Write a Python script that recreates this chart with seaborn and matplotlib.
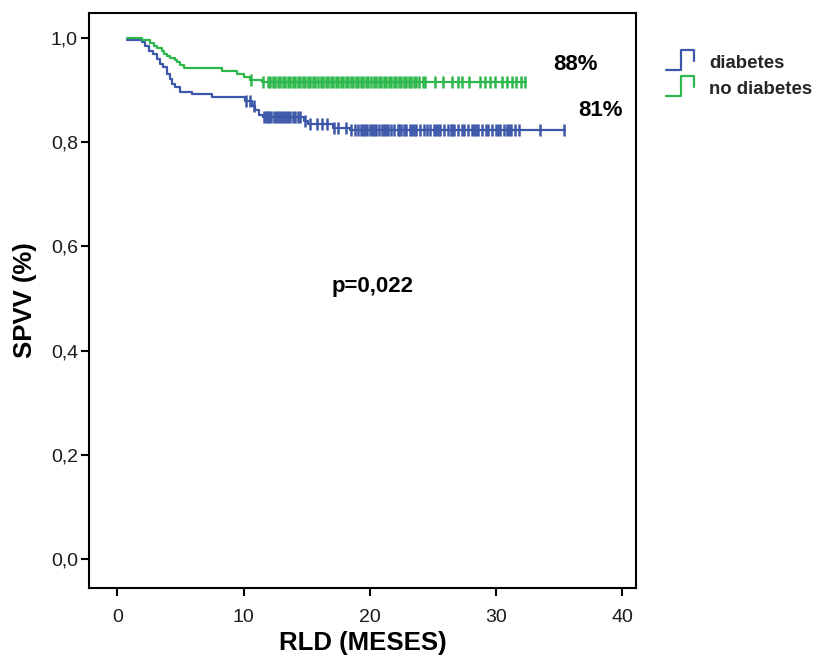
import numpy as np
import pandas as pd
import matplotlib
matplotlib.use("Agg")
import matplotlib.pyplot as plt
from matplotlib.lines import Line2D
from matplotlib.legend_handler import HandlerBase
import seaborn as sns

# ---------------- data ----------------
groups = ["diabetes", "no diabetes"]
colors = {"diabetes": "#3D58A8", "no diabetes": "#2EB84C"}

# Kaplan-Meier step curve: diabetes
diab_time = [0.8, 1.95, 2.2, 2.5, 2.8, 3.1, 3.4, 3.65, 3.9, 4.2, 4.3, 4.6, 5.0, 5.9,
             7.5, 10.1, 10.7, 10.9, 11.2, 11.5, 14.8, 15.1, 17.1, 18.4, 35.5]
diab_surv = [0.997, 0.992, 0.985, 0.976, 0.969, 0.960, 0.950, 0.944, 0.931, 0.921, 0.912,
             0.906, 0.896, 0.892, 0.886, 0.880, 0.870, 0.861, 0.853, 0.848, 0.841, 0.835,
             0.828, 0.823, 0.823]
diab_censor = [10.2, 10.5, 10.8,
               11.6, 11.75, 11.9, 12.05, 12.2, 12.4, 12.55, 12.7, 12.9, 13.05, 13.2,
               13.4, 13.55, 13.7, 13.9, 14.1, 14.3, 14.5,
               14.9, 15.3, 15.8, 16.2, 16.6, 17.2, 17.5, 18.1, 18.5, 18.8,
               19.1, 19.3, 19.45, 19.6, 19.8, 20.0, 20.15, 20.3, 20.5, 20.7, 21.0, 21.15,
               21.3, 21.45, 21.7, 21.9, 22.2, 22.35, 22.5, 22.7, 22.9, 23.2, 23.35, 23.5,
               23.7, 24.0, 24.3, 24.5, 24.8, 25.1, 25.25, 25.4, 25.6, 25.9, 26.2, 26.4,
               26.55, 26.7, 27.0, 27.3, 27.5, 27.8, 28.1, 28.3, 28.45, 28.6, 28.9, 29.2,
               29.4, 29.7, 30.0, 30.15, 30.3, 30.6, 30.9, 31.05, 31.2, 31.5, 31.8,
               33.5, 35.4]

# Kaplan-Meier step curve: no diabetes
nodiab_time = [0.8, 1.95, 2.6, 2.9, 3.15, 3.55, 3.7, 3.95, 4.2, 4.6, 4.75, 5.0, 5.25,
               8.3, 9.5, 10.0, 10.5, 11.45, 32.4]
nodiab_surv = [1.0, 0.996, 0.990, 0.985, 0.981, 0.976, 0.970, 0.966, 0.962, 0.958, 0.954,
               0.949, 0.942, 0.937, 0.931, 0.925, 0.920, 0.915, 0.915]
nodiab_censor = [10.55, 11.5,
                 11.9, 12.1, 12.3, 12.5, 12.7, 12.9, 13.1, 13.3, 13.5, 13.7, 13.9,
                 14.1, 14.3, 14.5, 14.7, 14.9, 15.1, 15.3, 15.5, 15.7, 15.9, 16.1,
                 16.3, 16.5, 16.7, 16.9, 17.1, 17.3, 17.5, 17.7, 17.9, 18.1, 18.3,
                 18.5, 18.7, 18.9, 19.1, 19.3, 19.5, 19.7, 19.9, 20.1, 20.3, 20.5,
                 20.7, 20.9, 21.1, 21.3, 21.5, 21.7, 21.9, 22.1, 22.3, 22.5, 22.7,
                 22.9, 23.1, 23.3, 23.5, 23.7, 23.9, 24.2, 24.4,
                 25.2, 25.8, 26.5, 27.0, 27.3, 27.9, 28.7, 29.1, 29.5, 29.9, 30.5, 30.9,
                 31.3, 31.6, 32.0, 32.3]

x_ticks = [0, 10, 20, 30, 40]
y_ticks = [0.0, 0.2, 0.4, 0.6, 0.8, 1.0]
y_ticklabels = ["0,0", "0,2", "0,4", "0,6", "0,8", "1,0"]
annotations = [("88%", 36.3, 0.949), ("81%", 38.3, 0.860), ("p=0,022", 20.2, 0.523)]

# ---------------- build tables ----------------
curves = pd.concat([
    pd.DataFrame({"time": diab_time, "surv": diab_surv, "group": "diabetes"}),
    pd.DataFrame({"time": nodiab_time, "surv": nodiab_surv, "group": "no diabetes"}),
], ignore_index=True)


def surv_at(times, t_steps, s_steps):
    idx = np.searchsorted(np.asarray(t_steps), np.asarray(times), side="right") - 1
    idx = np.clip(idx, 0, len(s_steps) - 1)
    return np.asarray(s_steps)[idx]


censors = pd.concat([
    pd.DataFrame({"time": diab_censor,
                  "surv": surv_at(diab_censor, diab_time, diab_surv),
                  "group": "diabetes"}),
    pd.DataFrame({"time": nodiab_censor,
                  "surv": surv_at(nodiab_censor, nodiab_time, nodiab_surv),
                  "group": "no diabetes"}),
], ignore_index=True)

# ---------------- plot ----------------
sns.set_theme(style="white")
plt.rcParams["font.family"] = ["Liberation Sans", "DejaVu Sans"]

W, H = 819, 661
fig = plt.figure(figsize=(W / 100, H / 100), dpi=100)
ax = fig.add_axes([89 / W, 1 - 588 / H, (636 - 89) / W, (588 - 13) / H])

for g in groups:
    sub = curves[curves.group == g]
    sns.lineplot(data=sub, x="time", y="surv", ax=ax, color=colors[g],
                 drawstyle="steps-post", linewidth=1.6, estimator=None,
                 sort=False, legend=False)
    csub = censors[censors.group == g]
    sns.scatterplot(data=csub, x="time", y="surv", ax=ax, color=colors[g],
                    marker="|", s=80, linewidth=1.8, legend=False, zorder=3)

ax.set_xlim(-2.25, 41.1)
ax.set_ylim(-0.056, 1.048)
ax.set_xticks(x_ticks)
ax.set_xticklabels([str(v) for v in x_ticks])
ax.set_yticks(y_ticks)
ax.set_yticklabels(y_ticklabels)

for s in ax.spines.values():
    s.set_color("black")
    s.set_linewidth(1.5)
    s.set_visible(True)

ax.tick_params(axis="both", which="major", direction="out", length=6, width=1.5,
               color="black", labelsize=14, labelcolor="#1a1a1a",
               left=True, bottom=True, top=False, right=False)
ax.tick_params(axis="x", pad=9)
ax.tick_params(axis="y", pad=2)

ax.set_xlabel("RLD (MESES)", fontsize=18.5, fontweight="bold", color="black",
              labelpad=4)
ax.set_ylabel("SPVV (%)", fontsize=18.5, fontweight="bold", color="black",
              labelpad=10)

for txt, xv, yv in annotations:
    ax.text(xv, yv, txt, ha="center", va="center", fontsize=16,
            fontweight="bold", color="black")


class StepHandler(HandlerBase):
    def create_artists(self, legend, orig_handle, xdescent, ydescent, width,
                       height, fontsize, trans):
        x0 = -xdescent
        y0 = -ydescent
        xm = x0 + 0.53 * width
        xs = [x0, xm, xm, x0 + width, x0 + width]
        ys = [y0 - 0.15 * height, y0 - 0.15 * height, y0 + 1.25 * height,
              y0 + 1.25 * height, y0 + 0.5 * height]
        ln = Line2D(xs, ys, color=orig_handle.get_color(),
                    linewidth=orig_handle.get_linewidth(), transform=trans)
        return [ln]


handles = [Line2D([], [], color=colors[g], linewidth=1.6) for g in groups]
fig.legend(handles, groups, loc="upper left",
           bbox_to_anchor=(666 / W, 1 - 54 / H), frameon=False,
           prop={"size": 13.4, "weight": "bold"}, handlelength=1.5,
           handleheight=0.8, handletextpad=0.8, labelspacing=0.45,
           borderpad=0, borderaxespad=0,
           handler_map={Line2D: StepHandler()})

fig.savefig("out.png", dpi=100)
